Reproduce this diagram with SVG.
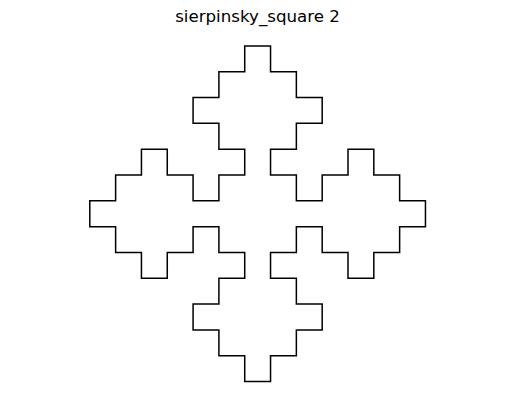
<svg xmlns="http://www.w3.org/2000/svg" width="515" height="409" viewBox="0 0 515 409">
<style>
.title{font-family:"DejaVu Sans",sans-serif;font-size:16.67px;fill:#000;text-anchor:middle}
.curve{fill:none;stroke:#000;stroke-width:1.5;stroke-linejoin:miter;stroke-linecap:square;vector-effect:non-scaling-stroke}
</style>
<rect width="515" height="409" fill="#fff"/>
<g id="title"><text class="title" x="257.5" y="22">sierpinsky_square 2</text></g>
<g id="connectors">
<path class="curve" transform="translate(89.8,45.9) scale(25.82)" d="M6,5 V4 H5 V3 H4 V2 H5 V1 H6 V0 H7 V1 H8 V2 H9 V3 H8 V4 H7 V5 H8 V6 H9 V5 H10 V4 H11 V5 H12 V6 H13 V7 H12 V8 H11 V9 H10 V8 H9 V7 H8 V8 H7 V9 H8 V10 H9 V11 H8 V12 H7 V13 H6 V12 H5 V11 H4 V10 H5 V9 H6 V8 H5 V7 H4 V8 H3 V9 H2 V8 H1 V7 H0 V6 H1 V5 H2 V4 H3 V5 H4 V6 H5 V5 Z"/>
</g>
</svg>
